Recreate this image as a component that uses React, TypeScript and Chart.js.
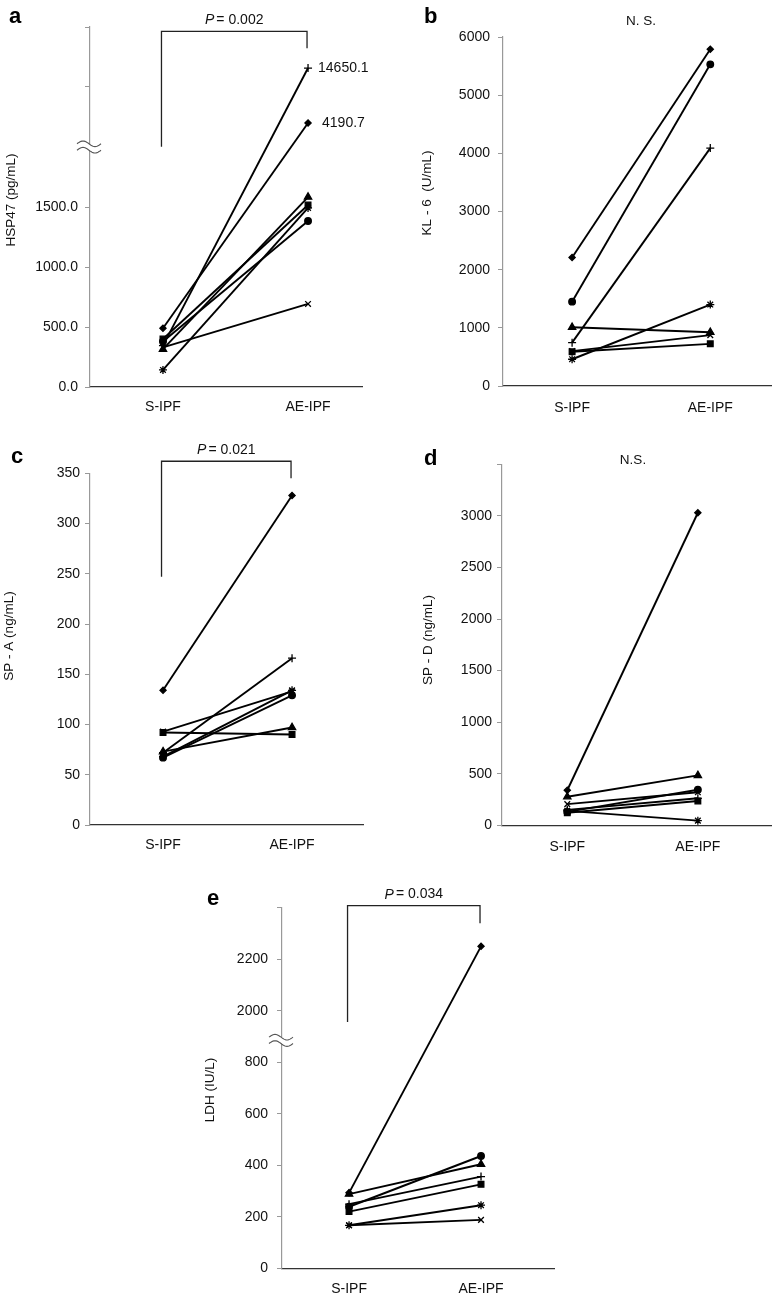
import React, { useEffect, useRef } from "react";
import { Chart, registerables } from "chart.js";
Chart.register(...registerables);

const FONT = "'Liberation Sans', Arial, Helvetica, sans-serif";

// ---------------- data ----------------
const CATEGORIES = ["S-IPF", "AE-IPF"];
// one entry per patient (Excel default marker order)
const MARKERS = ["rectRot", "rect", "triangle", "crossRot", "star", "circle", "cross"];
const MARKER_RADIUS = [3.1, 4, 4.2, 4, 4, 3.3, 4];

// a: HSP47 (pg/mL)
const HSP47_S = [489, 400, 315, 330, 142, 380, 345];
const HSP47_AE = [4190.7, 1517, 1583, 692, 1492, 1383, 14650.1];
const HSP47_TICK_LABELS = ["0.0", "500.0", "1000.0", "1500.0", "", "", ""];
const HSP47_P = "= 0.002";

// b: KL-6 (U/mL)
const KL6_S = [2210, 590, 1010, 600, 460, 1450, 745];
const KL6_AE = [5790, 725, 925, 875, 1400, 5530, 4090];
const KL6_TICK_LABELS = ["0", "1000", "2000", "3000", "4000", "5000", "6000"];

// c: SP-A (ng/mL)
const SPA_S = [134, 92, 73, 93, 68, 67, 72];
const SPA_AE = [328, 90, 97, 133, 134, 129, 166];
const SPA_TICK_LABELS = ["0", "50", "100", "150", "200", "250", "300", "350"];
const SPA_P = "= 0.021";

// d: SP-D (ng/mL)
const SPD_S = [340, 122, 277, 205, 140, 130, 150];
const SPD_AE = [3030, 235, 484, 320, 45, 345, 262];
const SPD_TICK_LABELS = ["0", "500", "1000", "1500", "2000", "2500", "3000", ""];

// e: LDH (IU/L)
const LDH_S = [293, 220, 288, 167, 167, 239, 249];
const LDH_AE = [2250, 326, 404, 188, 245, 436, 356];
const LDH_TICK_LABELS = ["0", "200", "400", "600", "800", "2000", "2200", ""];
const LDH_P = "= 0.034";

// broken-axis transforms (value -> plotted position on axis)
const hspAxis = (v: number) => (v <= 2000 ? v : 2000 + 842.7 * Math.log10(v / 2427));
const ldhAxis = (v: number) => (v <= 900 ? v : v - 1000);
const plain = (v: number) => v;

type PanelDef = {
  box: [number, number, number, number];
  area: [number, number, number, number];
  xRange: [number, number];
  yMax: number;
  yStep: number;
  tickLabels: string[];
  s: number[];
  ae: number[];
  toAxis: (v: number) => number;
  title: string;
  titleAt: [number, number];
  letter: string;
  letterAt: [number, number];
  tickPad: number;
  xPad: number;
  pText?: string;
  bracket?: [number, number, number];
  ns?: { text: string; at: [number, number] };
  breakAt?: number;
  callouts?: { idx: number; text: string; dx: number }[];
};

const PANELS: PanelDef[] = [
  {
    box: [0, 0, 385, 430], area: [90, 27, 362, 387], xRange: [-0.503, 1.372],
    yMax: 3000, yStep: 500, tickLabels: HSP47_TICK_LABELS, s: HSP47_S, ae: HSP47_AE, toAxis: hspAxis,
    title: "HSP47 (pg/mL)", titleAt: [11.5, 200], letter: "a", letterAt: [9, 23], tickPad: 7, xPad: 11.6,
    pText: HSP47_P, bracket: [2964, 2003, 2822], breakAt: 2000,
    callouts: [{ idx: 6, text: "14650.1", dx: 10 }, { idx: 0, text: "4190.7", dx: 14 }],
  },
  {
    box: [390, 0, 387, 430], area: [503, 37, 775, 386], xRange: [-0.5, 1.443],
    yMax: 6000, yStep: 1000, tickLabels: KL6_TICK_LABELS, s: KL6_S, ae: KL6_AE, toAxis: plain,
    title: "KL - 6  (U/mL)", titleAt: [427, 193], letter: "b", letterAt: [424, 23], tickPad: 8, xPad: 13.6,
    ns: { text: "N. S.", at: [641, 21] },
  },
  {
    box: [0, 430, 385, 430], area: [90, 473.3, 363, 825], xRange: [-0.566, 1.55],
    yMax: 350, yStep: 50, tickLabels: SPA_TICK_LABELS, s: SPA_S, ae: SPA_AE, toAxis: plain,
    title: "SP - A (ng/mL)", titleAt: [9, 636], letter: "c", letterAt: [11, 463], tickPad: 5, xPad: 11.6,
    pText: SPA_P, bracket: [362, 247, 345],
  },
  {
    box: [390, 430, 387, 430], area: [502, 464.3, 773, 825.3], xRange: [-0.5, 1.564],
    yMax: 3500, yStep: 500, tickLabels: SPD_TICK_LABELS, s: SPD_S, ae: SPD_AE, toAxis: plain,
    title: "SP - D (ng/mL)", titleAt: [428, 640], letter: "d", letterAt: [424, 465], tickPad: 5, xPad: 13.6,
    ns: { text: "N.S.", at: [633, 460] },
  },
  {
    box: [195, 860, 400, 437], area: [282, 907.7, 554, 1268.3], xRange: [-0.508, 1.553],
    yMax: 1400, yStep: 200, tickLabels: LDH_TICK_LABELS, s: LDH_S, ae: LDH_AE, toAxis: ldhAxis,
    title: "LDH (IU/L)", titleAt: [210, 1090], letter: "e", letterAt: [207, 905], tickPad: 9, xPad: 12.3,
    pText: LDH_P, bracket: [1408, 956, 1340], breakAt: 885,
  },
];

function drawBreak(ctx: CanvasRenderingContext2D, x: number, y: number) {
  const x0 = x - 13, x1 = x + 11, amp = 2.8, gap = 3.2;
  const wave = (yc: number, t: number) => yc - amp * Math.sin(2 * Math.PI * t);
  ctx.save();
  ctx.beginPath();
  for (let i = 0; i <= 24; i++) {
    const t = i / 24;
    const px = x0 + (x1 - x0) * t;
    if (i === 0) ctx.moveTo(px, wave(y - gap, t)); else ctx.lineTo(px, wave(y - gap, t));
  }
  for (let i = 24; i >= 0; i--) {
    const t = i / 24;
    ctx.lineTo(x0 + (x1 - x0) * t, wave(y + gap, t));
  }
  ctx.closePath();
  ctx.fillStyle = "#fff";
  ctx.fill();
  ctx.strokeStyle = "#555";
  ctx.lineWidth = 1.1;
  for (const yc of [y - gap, y + gap]) {
    ctx.beginPath();
    for (let i = 0; i <= 24; i++) {
      const t = i / 24;
      const px = x0 + (x1 - x0) * t;
      if (i === 0) ctx.moveTo(px, wave(yc, t)); else ctx.lineTo(px, wave(yc, t));
    }
    ctx.stroke();
  }
  ctx.restore();
}

function makeAnnotations(p: PanelDef) {
  const [bl, bt] = p.box;
  return {
    id: "annot",
    afterDraw(chart: any) {
      const ctx: CanvasRenderingContext2D = chart.ctx;
      const xs = chart.scales.x, ys = chart.scales.y;
      ctx.save();
      // panel letter
      ctx.fillStyle = "#000";
      ctx.font = `bold 22px ${FONT}`;
      ctx.textAlign = "left";
      ctx.textBaseline = "alphabetic";
      ctx.fillText(p.letter, p.letterAt[0] - bl, p.letterAt[1] - bt);
      // y title
      ctx.save();
      ctx.translate(p.titleAt[0] - bl, p.titleAt[1] - bt);
      ctx.rotate(-Math.PI / 2);
      ctx.font = `13.5px ${FONT}`;
      ctx.textAlign = "center";
      ctx.textBaseline = "middle";
      ctx.fillStyle = "#111";
      ctx.fillText(p.title, 0, 0);
      ctx.restore();
      // axis break
      if (p.breakAt !== undefined) drawBreak(ctx, chart.chartArea.left, ys.getPixelForValue(p.breakAt));
      // significance bracket
      if (p.bracket && p.pText) {
        const xl = xs.getPixelForValue(0) - 1.5, xr = xs.getPixelForValue(1) - 1;
        const yt = ys.getPixelForValue(p.bracket[0]);
        ctx.strokeStyle = "#222";
        ctx.lineWidth = 1.3;
        ctx.beginPath();
        ctx.moveTo(xl, ys.getPixelForValue(p.bracket[1]));
        ctx.lineTo(xl, yt);
        ctx.lineTo(xr, yt);
        ctx.lineTo(xr, ys.getPixelForValue(p.bracket[2]));
        ctx.stroke();
        ctx.font = `italic 14px ${FONT}`;
        const wP = ctx.measureText("P").width;
        ctx.font = `14px ${FONT}`;
        const wR = ctx.measureText(p.pText).width;
        const gap = 2;
        const total = wP + gap + wR;
        const cx = (xl + xr) / 2;
        const ty = yt - 11;
        ctx.textAlign = "left";
        ctx.textBaseline = "middle";
        ctx.fillStyle = "#111";
        ctx.font = `italic 14px ${FONT}`;
        ctx.fillText("P", cx - total / 2, ty);
        ctx.font = `14px ${FONT}`;
        ctx.fillText(p.pText, cx - total / 2 + wP + gap, ty);
      }
      if (p.ns) {
        ctx.font = `13.5px ${FONT}`;
        ctx.textAlign = "center";
        ctx.textBaseline = "middle";
        ctx.fillStyle = "#111";
        ctx.fillText(p.ns.text, p.ns.at[0] - bl, p.ns.at[1] - bt);
      }
      if (p.callouts) {
        ctx.font = `14px ${FONT}`;
        ctx.textAlign = "left";
        ctx.textBaseline = "middle";
        ctx.fillStyle = "#111";
        for (const c of p.callouts) {
          const px = xs.getPixelForValue(1) + c.dx;
          const py = ys.getPixelForValue(p.toAxis(p.ae[c.idx]));
          ctx.fillText(c.text, px, py);
        }
      }
      ctx.restore();
    },
  };
}

function Panel({ p }: { p: PanelDef }) {
  const ref = useRef<HTMLCanvasElement | null>(null);
  useEffect(() => {
    const [bl, bt, bw, bh] = p.box;
    const [al, at, ar, ab] = p.area;
    const datasets = p.s.map((sv, i) => ({
      label: `patient ${i + 1}`,
      data: [
        { x: 0, y: p.toAxis(sv) },
        { x: 1, y: p.toAxis(p.ae[i]) },
      ],
      borderColor: "#000",
      backgroundColor: "#000",
      borderWidth: 1.9,
      pointStyle: MARKERS[i] as any,
      pointRadius: MARKER_RADIUS[i],
      pointBackgroundColor: "#000",
      pointBorderColor: "#000",
      pointBorderWidth: 1.3,
      clip: false as any,
      tension: 0,
    }));
    const chart = new Chart(ref.current as HTMLCanvasElement, {
      type: "line",
      data: { datasets },
      options: {
        animation: false,
        responsive: false,
        devicePixelRatio: 1,
        layout: { padding: { top: at - bt, right: bl + bw - ar, left: 0, bottom: 0 } },
        plugins: { legend: { display: false }, tooltip: { enabled: false } },
        scales: {
          x: {
            type: "linear",
            min: p.xRange[0],
            max: p.xRange[1],
            afterBuildTicks: (s: any) => {
              s.ticks = [{ value: 0 }, { value: 1 }];
            },
            afterFit: (s: any) => {
              s.height = bt + bh - ab;
            },
            ticks: {
              callback: (v: any) => CATEGORIES[Math.round(Number(v))] ?? "",
              font: { family: FONT, size: 14 },
              color: "#111",
              padding: p.xPad,
              autoSkip: false,
              maxRotation: 0,
            },
            grid: { display: false, drawTicks: false },
            border: { display: true, color: "#333", width: 1.2 },
          },
          y: {
            type: "linear",
            min: 0,
            max: p.yMax,
            afterFit: (s: any) => {
              s.width = al - bl;
            },
            ticks: {
              stepSize: p.yStep,
              autoSkip: false,
              callback: (v: any) => p.tickLabels[Math.round(Number(v) / p.yStep)] ?? "",
              font: { family: FONT, size: 14 },
              color: "#111",
              padding: p.tickPad,
            },
            grid: { display: true, drawOnChartArea: false, drawTicks: true, tickLength: 5, color: "#999", lineWidth: 1 },
            border: { display: true, color: "#999", width: 1.2 },
          },
        },
      },
      plugins: [makeAnnotations(p)],
    } as any);
    return () => chart.destroy();
  }, [p]);
  const [bl, bt, bw, bh] = p.box;
  return (
    <canvas
      ref={ref}
      width={bw}
      height={bh}
      style={{ position: "absolute", left: bl, top: bt, width: bw, height: bh }}
    />
  );
}

export default function App() {
  useEffect(() => {
    document.body.style.margin = "0";
    document.body.style.background = "#fff";
  }, []);
  return (
    <div style={{ position: "relative", width: 777, height: 1297, background: "#fff", overflow: "hidden" }}>
      {PANELS.map((p, i) => (
        <Panel key={i} p={p} />
      ))}
    </div>
  );
}
